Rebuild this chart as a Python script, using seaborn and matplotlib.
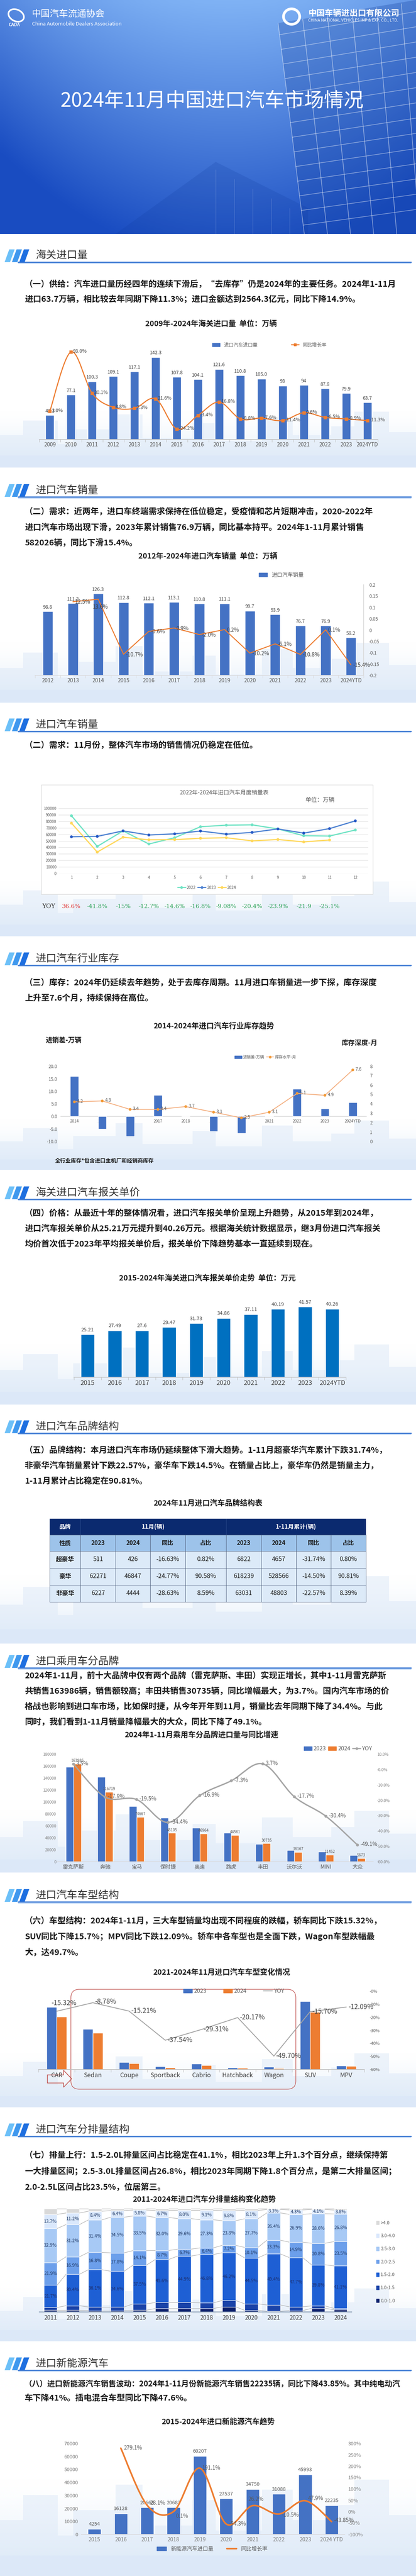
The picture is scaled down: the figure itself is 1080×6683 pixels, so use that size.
import numpy as np
import pandas as pd
import matplotlib
matplotlib.use("Agg")
import matplotlib.pyplot as plt
import matplotlib.transforms as mtransforms
import seaborn as sns
from matplotlib.lines import Line2D
from matplotlib.patches import Ellipse, FancyBboxPatch, Patch, PathPatch, Polygon, Rectangle
from matplotlib.path import Path

W, H = 1080, 6683

BLUE = "#4472C4"
ORANGE = "#ED7D31"
GREY_LINE = "#A5A5A5"
TXT = "#595959"
DARK = "#404040"

# ---- 海关进口量 ----
customs_years = ["2009", "2010", "2011", "2012", "2013", "2014", "2015", "2016",
                 "2017", "2018", "2019", "2020", "2021", "2022", "2023", "2024YTD"]
customs_volume = [42.1, 77.1, 100.3, 109.1, 117.1, 142.3, 107.8, 104.1,
                  121.6, 110.8, 105.0, 93, 94, 87.8, 79.9, 63.7]
customs_volume_text = ["42.1", "77.1", "100.3", "109.1", "117.1", "142.3", "107.8", "104.1",
                       "121.6", "110.8", "105.0", "93", "94", "87.8", "79.9", "63.7"]
customs_yoy = [3.0, 93.0, 30.1, 8.8, 7.3, 21.6, -24.2, -3.4, 16.8, -8.8, -7.6, -11.4, 0.6, -6.5, -8.9, -11.3]

# ---- 进口汽车销量 ----
sales_years = ["2012", "2013", "2014", "2015", "2016", "2017", "2018", "2019",
               "2020", "2021", "2022", "2023", "2024YTD"]
sales_volume = [98.8, 111.2, 126.3, 112.8, 112.1, 113.1, 110.8, 111.1, 99.7, 93.9, 76.7, 76.9, 58.2]
sales_yoy = [12.5, 13.6, -10.7, -0.6, 0.9, -2.0, 0.2, -10.2, -6.1, -10.8, 0.1, -15.4]  # 2013 onwards

# ---- 月度销量 ----
months = list(range(1, 13))
monthly_2022 = [88600, 41500, 65300, 45200, 54800, 71700, 74100, 74600, 68300, 57900, 57400, 66700]
monthly_2023 = [56300, 56900, 65300, 59000, 60800, 65100, 60300, 63000, 68300, 61900, 68800, 80700]
monthly_2024 = [77200, 32800, 55600, 51600, 51900, 54000, 54800, 50000, 52100, 48400, 51300]
monthly_yoy_text = ["36.6%", "-41.8%", "-15%", "-12.7%", "-14.6%", "-16.8%",
                    "-9.08%", "-20.4%", "-23.9%", "-21.9", "-25.1%"]

# ---- 库存 ----
inv_years = ["2014", "2015", "2016", "2017", "2018", "2019", "2020", "2021", "2022", "2023", "2024YTD"]
inv_gap = [16.0, -5.0, -8.0, 8.5, 0.0, -6.0, -6.7, 0.2, 11.0, 3.1, 5.6]
inv_depth = [4.2, 4.3, 3.4, 3.4, 3.7, 3.1, 2.5, 3.1, 5.1, 4.9, 7.6]

# ---- 报关单价 ----
price_years = ["2015", "2016", "2017", "2018", "2019", "2020", "2021", "2022", "2023", "2024YTD"]
price_value = [25.21, 27.49, 27.6, 29.47, 31.73, 34.86, 37.11, 40.19, 41.57, 40.26]

# ---- 品牌结构表 ----
brand_types = ["超豪华", "豪华", "非豪华"]
nov_2023 = [511, 62271, 6227]
nov_2024 = [426, 46847, 4444]
nov_yoy = ["-16.63%", "-24.77%", "-28.63%"]
nov_share = ["0.82%", "90.58%", "8.59%"]
ytd_2023 = [6822, 618239, 63031]
ytd_2024 = [4657, 528566, 48803]
ytd_yoy = ["-31.74%", "-14.50%", "-22.57%"]
ytd_share = ["0.80%", "90.81%", "8.39%"]

# ---- 乘用车分品牌 ----
brands = ["雷克萨斯", "奔驰", "宝马", "保时捷", "奥迪", "路虎", "丰田", "沃尔沃", "MINI", "大众"]
brand_2023 = [158400, 142200, 92800, 73300, 56500, 48100, 29600, 19600, 16500, 11100]
brand_2024 = [163986, 116719, 74667, 48105, 46964, 44561, 30735, 16167, 11452, 5673]
brand_yoy = [3.5, -17.9, -19.5, -34.4, -16.9, -7.3, 3.7, -17.7, -30.4, -49.1]

# ---- 车型结构 ----
body_types = ["CAR", "Sedan", "Coupe", "Sportback", "Cabrio", "Hatchback", "Wagon", "SUV", "MPV"]
body_2023 = [319000, 206000, 36500, 16700, 30400, 10000, 13000, 348000, 20500]
body_2024 = [270100, 187900, 30950, 10430, 21490, 7980, 6540, 293400, 18020]
body_yoy = [-15.32, -8.78, -15.21, -37.54, -29.31, -20.17, -49.70, -15.70, -12.09]

# ---- 排量结构 ----
disp_years = [str(y) for y in range(2011, 2025)]
disp_bands = ["0.0-1.0", "1.0-1.5", "1.5-2.0", "2.0-2.5", "2.5-3.0", "3.0-4.0", ">4.0"]
disp_0_10 = [1.7, 1.7, 1.3, 1.3, 1.7, 3.3, 3.3, 3.3, 5.0, 1.6, 0.7, 1.3, 3.5, 2.2]
disp_10_15 = [2.6, 4.4, 3.5, 3.5, 6.1, 5.9, 5.9, 5.5, 6.1, 6.3, 6.1, 3.7, 2.4, 1.3]
disp_15_20 = [21.7, 30.4, 36.1, 34.6, 37.5, 41.6, 44.9, 46.8, 46.2, 44.5, 49.4, 47.7, 39.8, 41.1]
disp_20_25 = [21.9, 16.9, 16.8, 17.8, 14.1, 8.7, 6.7, 6.4, 7.2, 10.1, 13.3, 14.9, 20.8, 23.5]
disp_25_30 = [32.9, 31.2, 31.4, 34.5, 33.5, 32.0, 29.6, 27.3, 23.8, 27.7, 26.4, 26.9, 28.6, 26.8]
disp_30_40 = [13.7, 11.2, 8.4, 6.4, 5.8, 6.7, 8.0, 9.1, 9.8, 8.1, 3.3, 4.3, 4.1, 3.8]
disp_40 = [5.5, 4.2, 2.5, 1.9, 1.3, 1.8, 1.6, 1.6, 1.9, 1.7, 0.8, 1.2, 0.8, 1.3]
disp_colors = ["#0B1F6B", "#1A43A8", "#1E5FD4", "#6C9FEB", "#A7C9F5", "#DAE8FC", "#D9D9D9"]

# ---- 新能源 ----
nev_years = ["2015", "2016", "2017", "2018", "2019", "2020", "2021", "2022", "2023", "2024 YTD"]
nev_volume = [4254, 16128, 20668, 20683, 60207, 27537, 34750, 31088, 45993, 22235]
nev_yoy = [279.1, 28.1, 0.1, 191.1, -54.3, 26.2, -10.5, 47.9, -43.85]  # 2016 onwards


sns.set_theme(style="white")
plt.rcParams["font.family"] = ["Noto Sans CJK SC", "DejaVu Sans"]
plt.rcParams["axes.unicode_minus"] = False

fig = plt.figure(figsize=(W / 100, H / 100), dpi=100)
fig.patch.set_facecolor("white")
renderer = fig.canvas.get_renderer()

bg = fig.add_axes([0, 0, 1, 1], zorder=-10)
bg.axis("off")


def fx(x):
	return x / W


def fy(y):
	return 1 - y / H


def px_ax(x0, y0, x1, y1):
	ax = fig.add_axes([x0 / W, 1 - y1 / H, (x1 - x0) / W, (y1 - y0) / H])
	ax.set_facecolor("none")
	return ax


def ftext(x, y, s, **kw):
	return fig.text(fx(x), fy(y), s, **kw)


def skyline(y0, y1):
	h = y1 - y0
	grad = np.zeros((64, 1, 4))
	grad[..., :3] = [0.86, 0.915, 0.975]
	grad[:, 0, 3] = np.linspace(0.0, 1.0, 64) ** 1.6
	bg.imshow(grad, extent=(0, W, y1, y0), aspect="auto", interpolation="bilinear", zorder=0.5)
	blocks = [(0, 60, 0.55), (60, 90, 0.8), (150, 40, 0.4), (190, 110, 0.65), (300, 70, 0.9),
			  (370, 130, 0.5), (500, 60, 0.75), (560, 120, 0.45), (680, 80, 0.85), (760, 100, 0.55),
			  (860, 60, 0.7), (920, 90, 0.95), (1010, 70, 0.6)]
	for bx, bw, bh in blocks:
		bg.add_patch(Rectangle((bx, y1 - bh * h), bw, bh * h, color="#DDE9F8", alpha=0.5, lw=0, zorder=0.6))
	bg.add_patch(Rectangle((0, y1 - 0.2 * h), W, 0.2 * h, color="#DCE8F8", lw=0, zorder=0.7))


def section_header(y, title):
	for i, c in enumerate(["#6CC0F8", "#3F98EE", "#1E6FE0"]):
		x = 12 + i * 19
		bg.add_patch(Polygon([(x + 12, y - 15), (x + 26, y - 15), (x + 14, y + 18), (x, y + 18)],
							 closed=True, color=c, lw=0, zorder=2))
	bg.plot([47, 1067], [y + 18, y + 18], color="#2E6FD0", lw=2.2, zorder=2)
	bg.plot([47, 1067], [y + 21, y + 21], color="#8DB8F0", lw=0.8, zorder=2)
	ftext(93, y + 1, title, fontsize=19.5, color="#333333", va="center", ha="left")


def paragraph(lines, y0, step=40):
	for k, line in enumerate(lines):
		t = ftext(64, y0 + k * step, line, fontsize=15.5, weight="bold", color="#1A1A1A", va="center", ha="left")
		w = t.get_window_extent(renderer).width
		if w > 972:
			t.set_fontsize(15.5 * 972 / w)


def chart_title(x, y, s, size=14):
	ftext(x, y, s, fontsize=size, weight="bold", ha="center", va="center", color="#1A1A1A")


def cat_axis(ax, labels, fs, color=TXT, between=True, spine="#BFBFBF"):
	n = len(labels)
	ax.set_xlim(-0.5, n - 0.5)
	ax.set_xticks(np.arange(n))
	ax.set_xticklabels(labels, fontsize=fs, color=color)
	ax.tick_params(axis="x", which="major", length=0, pad=5)
	if between:
		ax.set_xticks(np.arange(-0.5, n, 1.0), minor=True)
		ax.tick_params(axis="x", which="minor", bottom=True, length=5, width=0.8, color=spine)
	for s in ["top", "right", "left"]:
		ax.spines[s].set_visible(False)
	ax.spines["bottom"].set_color(spine)
	ax.set_xlabel("")
	ax.set_ylabel("")


def twin(ax):
	axb = ax.twinx()
	for s in ["top", "left", "bottom", "right"]:
		axb.spines[s].set_visible(False)
	axb.set_ylabel("")
	return axb


def smooth_line(ax, xs, ys, color, lw, zorder=3):
	pts = np.column_stack([np.asarray(xs, float), np.asarray(ys, float)])
	n = len(pts)
	verts = [pts[0]]
	codes = [Path.MOVETO]
	for i in range(n - 1):
		p0 = pts[i - 1] if i > 0 else pts[i]
		p1, p2 = pts[i], pts[i + 1]
		p3 = pts[i + 2] if i + 2 < n else pts[i + 1]
		verts += [p1 + (p2 - p0) / 6, p2 - (p3 - p1) / 6, p2]
		codes += [Path.CURVE4] * 3
	ax.add_patch(PathPatch(Path(verts, codes), facecolor="none", edgecolor=color, lw=lw,
						   zorder=zorder, capstyle="round"))


def point_labels(ax, xs, ys, texts, offsets, fs, color=DARK):
	for x, y, s, (dx, dy) in zip(xs, ys, texts, offsets):
		ax.annotate(s, (x, y), xytext=(dx, dy), textcoords="offset points", ha="left",
					va="center", fontsize=fs, color=color, zorder=6)


# ================= banner =================
yy, xx = np.mgrid[0:1:80j, 0:1:120j]
tone = np.clip(0.95 - 0.85 * yy - 1.3 * (xx - 0.55) ** 2, 0, 1)
dark = np.array([0.10, 0.30, 0.76])
light = np.array([0.52, 0.72, 0.97])
bg.imshow(dark + (light - dark) * tone[..., None], extent=(0, W, 607, 0), aspect="auto",
		  interpolation="bicubic", zorder=0)
bg.add_patch(Polygon([(722, 60), (1080, 0), (1080, 607), (790, 607)], color="#123F9E", alpha=0.28, lw=0, zorder=0.3))
bg.add_patch(Polygon([(300, 607), (560, 420), (800, 540), (800, 607)], color="#0E3A9E", alpha=0.18, lw=0, zorder=0.3))
for k in range(6):
	bg.plot([722 + 64 * k, 790 + 60 * k], [60 - 10 * k, 607], color="white", alpha=0.45, lw=1.3, zorder=0.4)
for j in range(14):
	yl = 90 + 38 * j
	bg.plot([722 + (yl - 60) / 547 * 68, 1080], [yl, yl - 60 + j * 1.5], color="white", alpha=0.45, lw=1.2, zorder=0.4)
for k in range(5):
	bg.plot([560 + 48 * k, 560 + 48 * k], [440 + 25 * k, 607], color="white", alpha=0.18, lw=1, zorder=0.4)
bg.add_patch(Ellipse((42, 40), 42, 30, angle=25, fill=False, ec="white", lw=3, zorder=1))
ftext(22, 64, "CADA", fontsize=8, color="white", weight="bold", style="italic", va="center")
ftext(83, 36, "中国汽车流通协会", fontsize=17, color="white", va="center")
ftext(83, 63, "China Automobile Dealers Association", fontsize=9.5, color="white", va="center")
bg.add_patch(Ellipse((757, 43), 42, 40, fill=False, ec="white", lw=5, zorder=1))
ftext(800, 34, "中国车辆进出口有限公司", fontsize=15.5, color="white", weight="bold", va="center")
ftext(800, 53, "CHINA NATIONAL VEHICLES IMP & EXP. CO., LTD.", fontsize=7.5, color="white", va="center")
ftext(551, 262, "2024年11月中国进口汽车市场情况", fontsize=37, color="white", ha="center", va="center")

for y0, y1 in [(1060, 1213), (1660, 1823), (2280, 2429), (2900, 3035), (3480, 3644),
			   (4080, 4264), (4690, 4858), (5320, 5467), (5930, 6074), (6420, 6683)]:
	skyline(y0, y1)

# ================= 1 海关进口量 =================
section_header(662, "海关进口量")
paragraph(["（一）供给：汽车进口量历经四年的连续下滑后，“去库存”仍是2024年的主要任务。2024年1-11月",
		   "进口63.7万辆，相比较去年同期下降11.3%；进口金额达到2564.3亿元，同比下降14.9%。"], 737, 39)
chart_title(548, 840, "2009年-2024年海关进口量  单位：万辆")
ax = px_ax(102, 900, 981, 1140)
sns.barplot(x=customs_years, y=customs_volume, color=BLUE, width=0.4, saturation=1, errorbar=None, ax=ax)
ax.bar_label(ax.containers[0], labels=customs_volume_text, padding=3, fontsize=9, color=DARK)
ax.set_ylim(0, 160)
ax.set_yticks([])
cat_axis(ax, customs_years, 10)
axb = twin(ax)
xs = np.arange(len(customs_years))
smooth_line(axb, xs, customs_yoy, ORANGE, 2)
sns.scatterplot(x=xs, y=customs_yoy, marker="s", s=28, color=ORANGE, edgecolor=ORANGE, ax=axb, zorder=4, legend=False)
point_labels(axb, xs, customs_yoy, [f"{v:.1f}%" for v in customs_yoy], [(4, 1)] * len(xs), 9)
axb.set_ylim(-40, 100.6)
axb.set_yticks([])
ax.set_xlim(-0.5, len(customs_years) - 0.5)
fig.legend([Patch(color=BLUE), Line2D([0], [0], color=ORANGE, marker="s", ms=5, lw=2)],
		   ["进口汽车进口量", "同比增长率"], loc="center", bbox_to_anchor=(fx(700), fy(895)),
		   ncol=2, frameon=False, fontsize=9, columnspacing=7, handlelength=1.6, labelcolor=TXT)

# ================= 2 进口汽车销量 =================
section_header(1271, "进口汽车销量")
paragraph(["（二）需求：近两年，进口车终端需求保持在低位稳定，受疫情和芯片短期冲击，2020-2022年",
		   "进口汽车市场出现下滑，2023年累计销售76.9万辆，同比基本持平。2024年1-11月累计销售",
		   "582026辆，同比下滑15.4%。"], 1327, 40.5)
chart_title(540, 1443, "2012年-2024年进口汽车销量  单位：万辆")
ax = px_ax(91, 1517, 944, 1752)
sns.barplot(x=sales_years, y=sales_volume, color=BLUE, width=0.4, saturation=1, errorbar=None, ax=ax)
ax.bar_label(ax.containers[0], labels=[f"{v:.1f}" for v in sales_volume], padding=3, fontsize=9, color=DARK)
ax.set_ylim(0, 140)
ax.set_yticks([])
cat_axis(ax, sales_years, 10, spine="#D9D9D9")
axb = twin(ax)
xs = np.arange(1, len(sales_years))
yoy = [v / 100 for v in sales_yoy]
sns.lineplot(x=xs, y=yoy, color=ORANGE, lw=1.8, ax=axb)
offs = [(4, -1)] * len(xs)
offs[1] = (-10, -15)
point_labels(axb, xs, yoy, [f"{v:.1f}%" for v in sales_yoy], offs, 10)
axb.set_ylim(-0.2, 0.2)
ticks = [-0.2, -0.15, -0.1, -0.05, 0, 0.05, 0.1, 0.15, 0.2]
axb.set_yticks(ticks)
axb.set_yticklabels(["-0.2", "-0.15", "-0.1", "-0.05", "0", "0.05", "0.1", "0.15", "0.2"], fontsize=8.5, color=TXT)
axb.tick_params(axis="y", length=0, pad=10)
axb.spines["right"].set_visible(True)
axb.spines["right"].set_color("#D9D9D9")
ax.set_xlim(-0.5, len(sales_years) - 0.5)
fig.legend([Patch(color=BLUE)], ["进口汽车销量"], loc="center", bbox_to_anchor=(fx(730), fy(1492)),
		   frameon=False, fontsize=10, handlelength=1.6, labelcolor=TXT)

# ================= 3 月度销量 =================
section_header(1879, "进口汽车销量")
paragraph(["（二）需求：11月份，整体汽车市场的销售情况仍稳定在低位。"], 1933)
bg.add_patch(Rectangle((107, 2036), 861, 284, facecolor="white", edgecolor="#D9D9D9", lw=1, zorder=1))
ftext(582, 2057, "2022年-2024年进口汽车月度销量表", fontsize=10.5, color=TXT, ha="center", va="center")
ftext(830, 2076, "单位：万辆", fontsize=11, color=TXT, ha="center", va="center")
ax = px_ax(152, 2097, 956, 2266)
monthly = pd.DataFrame({
	"month": months + months + months[:11],
	"sales": monthly_2022 + monthly_2023 + monthly_2024,
	"year": ["2022"] * 12 + ["2023"] * 12 + ["2024"] * 11,
})
pal = {"2022": "#6FE3C4", "2023": "#4F83D2", "2024": "#FFD85C"}
sns.lineplot(data=monthly, x="month", y="sales", hue="year", palette=pal, lw=2.2, ax=ax, legend=False)
sns.scatterplot(data=monthly, x="month", y="sales", hue="year",
				palette={"2022": "#6FE3C4", "2023": "#2457C5", "2024": "#FFD85C"},
				s=28, edgecolor="none", ax=ax, legend=False, zorder=4)
ax.set_xlim(0.5, 12.5)
ax.set_ylim(0, 100000)
ax.set_yticks(range(0, 100001, 10000))
ax.set_yticklabels([str(v) for v in range(0, 100001, 10000)], fontsize=7, color=TXT)
ax.set_xticks(months)
ax.set_xticklabels([str(m) for m in months], fontsize=7, color=TXT)
ax.tick_params(axis="both", length=0, pad=4)
ax.yaxis.grid(True, color="#E3E3E3", lw=1)
for s in ax.spines.values():
	s.set_visible(False)
ax.set_xlabel("")
ax.set_ylabel("")
fig.legend([Line2D([0], [0], color=pal[k], marker="o", ms=4, lw=2) for k in ["2022", "2023", "2024"]],
		   ["2022", "2023", "2024"], loc="center", bbox_to_anchor=(fx(537), fy(2303)), ncol=3,
		   frameon=False, fontsize=7.5, handlelength=2, columnspacing=0.5, handletextpad=0.3, labelcolor=TXT)
ftext(126, 2352, "YOY", family="DejaVu Serif", fontsize=11.5, color="#333333", ha="center", va="center")
blend = mtransforms.blended_transform_factory(ax.transData, fig.transFigure)
for m, s in zip(months, monthly_yoy_text):
	ax.text(m, fy(2352), s, transform=blend, family="DejaVu Serif", fontsize=11, ha="center", va="center",
			color="#E03030" if not s.startswith("-") else "#2FA35A")

# ================= 4 库存 =================
section_header(2486, "进口汽车行业库存")
paragraph(["（三）库存：2024年仍延续去年趋势，处于去库存周期。11月进口车销量进一步下探，库存深度",
		   "上升至7.6个月，持续保持在高位。"], 2549)
chart_title(555, 2662, "2014-2024年进口汽车行业库存趋势")
ftext(165, 2699, "进销差-万辆", fontsize=12.5, weight="bold", color="#1A1A1A", ha="center", va="center")
ftext(933, 2706, "库存深度-月", fontsize=12.5, weight="bold", color="#1A1A1A", ha="center", va="center")
ax = px_ax(157, 2766, 952, 2961)
sns.barplot(x=inv_years, y=inv_gap, color=BLUE, width=0.3, saturation=1, errorbar=None, ax=ax)
for p in ax.patches:
	p.set_zorder(2)
ax.set_ylim(-10, 20)
ax.set_yticks(np.arange(-10, 20.1, 5))
ax.set_yticklabels([f"{v:.1f}" for v in np.arange(-10, 20.1, 5)], fontsize=8.5, color=TXT)
ax.tick_params(axis="y", length=0, pad=6)
ax.set_xticks([])
ax.set_xlim(-0.5, len(inv_years) - 0.5)
for s in ax.spines.values():
	s.set_visible(False)
ax.axhline(0, color="#D0D0D0", lw=1, zorder=1.5)
for i, lab in enumerate(inv_years):
	ax.annotate(lab, (i, 0), xytext=(0, -6), textcoords="offset points", ha="center", va="top",
				fontsize=7.5, color=TXT, zorder=1)
ax.set_xlabel("")
ax.set_ylabel("")
axb = twin(ax)
xs = np.arange(len(inv_years))
sns.lineplot(x=xs, y=inv_depth, color="#F4B183", lw=1.6, ax=axb)
sns.scatterplot(x=xs, y=inv_depth, color="#F29B38", s=26, edgecolor="none", ax=axb, zorder=4, legend=False)
point_labels(axb, xs, inv_depth, [f"{v:.1f}" for v in inv_depth], [(5, 1)] * len(xs), 8.5, TXT)
axb.set_ylim(0, 8)
axb.set_yticks(range(0, 9))
axb.set_yticklabels([str(v) for v in range(0, 9)], fontsize=8.5, color=TXT)
axb.tick_params(axis="y", length=0, pad=6)
ax.set_xlim(-0.5, len(inv_years) - 0.5)
fig.legend([Patch(color=BLUE), Line2D([0], [0], color="#F4B183", marker="o", mfc="#F29B38", mec="#F29B38", ms=4, lw=1.5)],
		   ["进销差-万辆", "库存水平-月"], loc="center", bbox_to_anchor=(fx(689), fy(2743)), ncol=2,
		   frameon=False, fontsize=7.5, handlelength=1.8, columnspacing=0.5, handletextpad=0.3, labelcolor=TXT)
ftext(143, 3012, "全行业库存*包含进口主机厂和经销商库存", fontsize=10, weight="bold", color="#1A1A1A", va="center")

# ================= 5 报关单价 =================
section_header(3093, "海关进口汽车报关单价")
paragraph(["（四）价格：从最近十年的整体情况看，进口汽车报关单价呈现上升趋势，从2015年到2024年，",
		   "进口汽车报关单价从25.21万元提升到40.26万元。根据海关统计数据显示，继3月份进口汽车报关",
		   "均价首次低于2023年平均报关单价后，报关单价下降趋势基本一直延续到现在。"], 3147)
chart_title(538, 3316, "2015-2024年海关进口汽车报关单价走势  单位：万元")
ax = px_ax(192, 3353, 898, 3573)
sns.barplot(x=price_years, y=price_value, color="#0070C0", width=0.5, saturation=1, errorbar=None, ax=ax)
ax.bar_label(ax.containers[0], labels=[f"{v:g}" for v in price_value], padding=4, fontsize=9.5, color=DARK)
ax.set_ylim(0, 50)
ax.set_yticks([])
cat_axis(ax, price_years, 12, color=DARK)

# ================= 6 品牌结构 =================
section_header(3700, "进口汽车品牌结构")
paragraph(["（五）品牌结构：本月进口汽车市场仍延续整体下滑大趋势。1-11月超豪华汽车累计下跌31.74%，",
		   "非豪华汽车销量累计下跌22.57%，豪华车下跌14.5%。在销量占比上，豪华车仍然是销量主力，",
		   "1-11月累计占比稳定在90.81%。"], 3762)
chart_title(540, 3900, "2024年11月进口汽车品牌结构表")
col_w = [80, 91, 90, 91, 106, 91, 91, 90, 91]
row_h = [42, 42, 44, 44, 44]
xe = 129 + np.concatenate([[0], np.cumsum(col_w)])
ye = 3940 + np.concatenate([[0], np.cumsum(row_h)])
bg.add_patch(Rectangle((xe[0], ye[0]), xe[-1] - xe[0], row_h[0], color="#0B2A6F", lw=0, zorder=2))
bg.add_patch(Rectangle((xe[0], ye[1]), xe[-1] - xe[0], row_h[1], color="#9DC3EA", lw=0, zorder=2))
bg.add_patch(Rectangle((xe[0], ye[2]), xe[-1] - xe[0], ye[-1] - ye[2], color="#DCEAF8", lw=0, zorder=2))
for x in [xe[1], xe[5]]:
	bg.plot([x, x], [ye[0], ye[1]], color="#2A4A8A", lw=0.8, zorder=3)
for x in xe:
	bg.plot([x, x], [ye[1], ye[-1]], color="#52627E", lw=0.8, zorder=3)
for y in ye[1:]:
	bg.plot([xe[0], xe[-1]], [y, y], color="#52627E", lw=0.8, zorder=3)
ymid = (ye[:-1] + ye[1:]) / 2
xmid = (xe[:-1] + xe[1:]) / 2
ftext(xmid[0], ymid[0], "品牌", fontsize=11, weight="bold", color="white", ha="center", va="center")
ftext((xe[1] + xe[5]) / 2, ymid[0], "11月(辆)", fontsize=11, weight="bold", color="white", ha="center", va="center")
ftext((xe[5] + xe[9]) / 2, ymid[0], "1-11月累计(辆)", fontsize=11, weight="bold", color="white", ha="center", va="center")
for j, s in enumerate(["性质", "2023", "2024", "同比", "占比", "2023", "2024", "同比", "占比"]):
	ftext(xmid[j], ymid[1], s, fontsize=11, weight="bold", color="#1A1A1A", ha="center", va="center")
table = pd.DataFrame({"type": brand_types, "n23": nov_2023, "n24": nov_2024, "nyoy": nov_yoy, "nsh": nov_share,
					  "y23": ytd_2023, "y24": ytd_2024, "yyoy": ytd_yoy, "ysh": ytd_share})
for i, row in enumerate(table.itertuples(index=False)):
	for j, val in enumerate(row):
		ftext(xmid[j], ymid[i + 2], str(val), fontsize=11.5, weight="bold" if j == 0 else "normal",
			  color="#1A1A1A", ha="center", va="center")

# ================= 7 乘用车分品牌 =================
section_header(4309, "进口乘用车分品牌")
paragraph(["2024年1-11月，前十大品牌中仅有两个品牌（雷克萨斯、丰田）实现正增长，其中1-11月雷克萨斯",
		   "共销售163986辆，销售额较高；丰田共销售30735辆，同比增幅最大，为3.7%。国内汽车市场的价",
		   "格战也影响到进口车市场，比如保时捷，从今年开年到11月，销量比去年同期下降了34.4%。与此",
		   "同时，我们看到1-11月销量降幅最大的大众，同比下降了49.1%。"], 4347)
chart_title(523, 4501, "2024年1-11月乘用车分品牌进口量与同比增速")
ax = px_ax(150, 4551, 969, 4830)
brand_df = pd.DataFrame({"brand": brands * 2, "sales": brand_2023 + brand_2024,
						 "year": ["2023"] * len(brands) + ["2024"] * len(brands)})
sns.barplot(data=brand_df, x="brand", y="sales", hue="year", palette={"2023": BLUE, "2024": ORANGE},
			width=0.48, saturation=1, errorbar=None, ax=ax, legend=False)
ax.bar_label(ax.containers[1], labels=[str(v) for v in brand_2024], padding=2, fontsize=7, color=TXT)
ax.set_ylim(0, 180000)
ax.set_yticks(range(0, 180001, 20000))
ax.set_yticklabels([str(v) for v in range(0, 180001, 20000)], fontsize=7.5, color="#7F7F7F")
ax.tick_params(axis="y", length=0, pad=3)
cat_axis(ax, brands, 10, between=False, spine="#D9D9D9")
axb = twin(ax)
xs = np.arange(len(brands))
yoy = [v / 100 for v in brand_yoy]
smooth_line(axb, xs, yoy, GREY_LINE, 2.5)
sns.scatterplot(x=xs, y=yoy, color=GREY_LINE, s=30, edgecolor="none", ax=axb, zorder=4, legend=False)
point_labels(axb, xs, yoy, [f"{v:.1f}%" for v in brand_yoy], [(5, 1)] * len(xs), 10, TXT)
axb.set_ylim(-0.6, 0.1)
rt = np.round(np.arange(-0.6, 0.101, 0.1), 2)
axb.set_yticks(rt)
axb.set_yticklabels([f"{v * 100:.1f}%" for v in rt], fontsize=7.5, color="#7F7F7F")
axb.tick_params(axis="y", length=0, pad=7)
ax.set_xlim(-0.5, len(brands) - 0.5)
fig.legend([Patch(color=BLUE), Patch(color=ORANGE), Line2D([0], [0], color=GREY_LINE, marker="o", ms=4, lw=2)],
		   ["2023", "2024", "YOY"], loc="center", bbox_to_anchor=(fx(878), fy(4537)), ncol=3, frameon=False,
		   fontsize=10.5, handlelength=1.4, columnspacing=0.4, handletextpad=0.3, labelcolor=TXT)

# ================= 8 车型结构 =================
section_header(4916, "进口汽车车型结构")
paragraph(["（六）车型结构：2024年1-11月，三大车型销量均出现不同程度的跌幅，轿车同比下跌15.32%，",
		   "SUV同比下降15.7%；MPV同比下跌12.09%。轿车中各车型也是全面下跌，Wagon车型跌幅最",
		   "大，达49.7%。"], 4983, 41)
chart_title(575, 5117, "2021-2024年11月进口汽车车型变化情况")
ax = px_ax(100, 5166, 946, 5369)
body_df = pd.DataFrame({"type": body_types * 2, "sales": body_2023 + body_2024,
						"year": ["2023"] * len(body_types) + ["2024"] * len(body_types)})
sns.barplot(data=body_df, x="type", y="sales", hue="year", palette={"2023": BLUE, "2024": ORANGE},
			width=0.56, saturation=1, errorbar=None, ax=ax, legend=False)
ax.set_ylim(0, 400000)
ax.set_yticks([])
cat_axis(ax, body_types, 11.5, color=DARK)
axb = twin(ax)
xs = np.arange(len(body_types))
yoy = [v / 100 for v in body_yoy]
sns.lineplot(x=xs, y=yoy, color=GREY_LINE, lw=1.6, ax=axb)
offs = [(4, 0)] * len(xs)
offs[0] = (-10, 15)
offs[1] = (4, 2)
point_labels(axb, xs, yoy, [f"{v:.2f}%" for v in body_yoy], offs, 12.5, DARK)
axb.set_ylim(-0.6, 0)
rt = np.round(np.arange(-0.6, 0.001, 0.1), 2)
axb.set_yticks(rt)
axb.set_yticklabels([f"{v * 100:.0f}%" for v in rt], fontsize=8, color=TXT)
axb.tick_params(axis="y", length=0, pad=10)
ax.set_xlim(-0.5, len(body_types) - 0.5)
fig.legend([Patch(color=BLUE), Patch(color=ORANGE), Line2D([0], [0], color=GREY_LINE, lw=1.6)],
		   ["2023", "2024", "YOY"], loc="center", bbox_to_anchor=(fx(607), fy(5166)), ncol=3, frameon=False,
		   fontsize=10.5, handlelength=1.6, columnspacing=3, handletextpad=0.3, labelcolor=TXT)
bg.add_patch(FancyBboxPatch((184, 5161), 584, 259, boxstyle="round,pad=0,rounding_size=22",
							fill=False, ec="#C0504D", lw=1, zorder=3))
bg.add_patch(Polygon([(123, 5383), (165, 5383), (165, 5371), (186, 5393), (165, 5415), (165, 5404), (123, 5404)],
					 closed=True, fill=False, ec="#C0504D", lw=1.2, zorder=3))

# ================= 9 排量结构 =================
section_header(5524, "进口汽车分排量结构")
paragraph(["（七）排量上行：1.5-2.0L排量区间占比稳定在41.1%，相比2023年上升1.3个百分点，继续保持第",
		   "一大排量区间；2.5-3.0L排量区间占26.8%，相比2023年同期下降1.8个百分点，是第二大排量区间；",
		   "2.0-2.5L区间占比23.5%，位居第三。"], 5591, 41.5)
chart_title(530, 5705, "2011-2024年进口汽车分排量结构变化趋势")
ax = px_ax(102, 5730, 913, 5998)
layers = [disp_0_10, disp_10_15, disp_15_20, disp_20_25, disp_25_30, disp_30_40, disp_40]
cum = np.cumsum(np.array(layers), axis=0)
for k in range(len(layers) - 1, -1, -1):
	sns.barplot(x=disp_years, y=cum[k], color=disp_colors[k], width=0.6, saturation=1, errorbar=None, ax=ax)
bw = 0.3
for k in range(len(layers)):
	for i in range(len(disp_years) - 1):
		ax.plot([i + bw, i + 1 - bw], [cum[k][i], cum[k][i + 1]], color="#A6A6A6", lw=0.8, zorder=3)
label_colors = {2: "#1C2E6E", 3: "#1F3864", 4: "#1F3864", 5: "#1F3864"}
for k, col in label_colors.items():
	for i, v in enumerate(layers[k]):
		ax.text(i, cum[k][i] - v / 2, f"{v:.1f}%", ha="center", va="center", fontsize=8.5, color=col, zorder=4)
ax.set_ylim(0, 100)
ax.set_yticks([])
cat_axis(ax, disp_years, 11, color=DARK, between=False, spine="#8497B0")
ax.spines["bottom"].set_linewidth(1.5)
ax.set_xlim(-0.5, len(disp_years) - 0.5)
fig.legend([Patch(color=c) for c in disp_colors[::-1]], disp_bands[::-1], loc="upper left",
		   bbox_to_anchor=(fx(966), fy(5750)), frameon=False, fontsize=8.5, handlelength=0.6,
		   handleheight=0.9, labelspacing=1.75, handletextpad=0.4, labelcolor=TXT)

# ================= 10 新能源 =================
section_header(6131, "进口新能源汽车")
paragraph(["（八）进口新能源汽车销售波动：2024年1-11月份新能源汽车销售22235辆，同比下降43.85%。其中纯电动汽",
		   "车下降41%。插电混合车型同比下降47.6%。"], 6184, 37)
chart_title(566, 6283, "2015-2024年进口新能源汽车趋势")
ax = px_ax(211, 6339, 895, 6575)
sns.barplot(x=nev_years, y=nev_volume, color=BLUE, width=0.5, saturation=1, errorbar=None, ax=ax)
ax.bar_label(ax.containers[0], labels=[str(v) for v in nev_volume], padding=4, fontsize=9.5, color=TXT)
ax.set_ylim(0, 70000)
ax.set_yticks(range(0, 70001, 10000))
ax.set_yticklabels([str(v) for v in range(0, 70001, 10000)], fontsize=9.5, color="#7F7F7F")
ax.tick_params(axis="y", length=0, pad=6)
cat_axis(ax, nev_years, 10, color="#7F7F7F", between=False, spine="#D9D9D9")
axb = twin(ax)
xs = np.arange(1, len(nev_years))
yoy = [v / 100 for v in nev_yoy]
smooth_line(axb, xs, yoy, ORANGE, 3)
offs = [(6, 0), (5, 4), (4, -9), (4, 0), (5, 0), (-8, 12), (5, -2), (5, 4), (4, 2)]
point_labels(axb, xs, yoy, [f"{v:g}%" for v in nev_yoy], offs, 10, TXT)
axb.set_ylim(-1, 3)
rt = np.arange(-1, 3.01, 0.5)
axb.set_yticks(rt)
axb.set_yticklabels([f"{v * 100:.0f}%" for v in rt], fontsize=9.5, color="#7F7F7F")
axb.tick_params(axis="y", length=0, pad=6)
ax.set_xlim(-0.5, len(nev_years) - 0.5)
fig.legend([Patch(color=BLUE), Line2D([0], [0], color=ORANGE, lw=3)], ["新能源汽车进口量", "同比增长率"],
		   loc="center", bbox_to_anchor=(fx(551), fy(6613)), ncol=2, frameon=False, fontsize=10,
		   handlelength=1.8, columnspacing=2.5, labelcolor=TXT)

bg.set_xlim(0, W)
bg.set_ylim(H, 0)
fig.savefig("out.png", dpi=100, facecolor="white")
